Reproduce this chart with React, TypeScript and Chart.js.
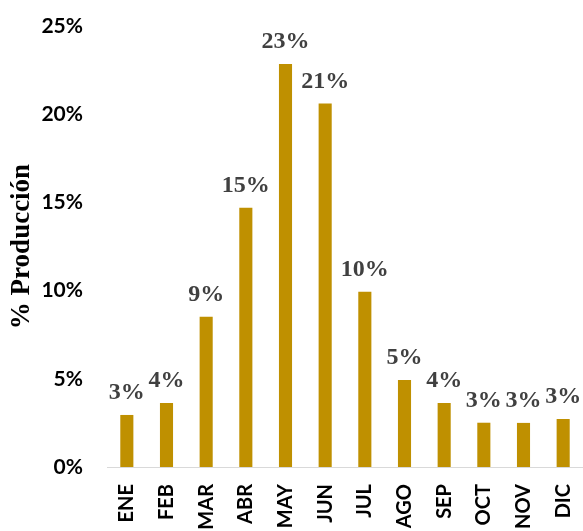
import React, { useEffect, useRef } from "react";
import { Chart, registerables } from "chart.js";

Chart.register(...registerables);

const months = ["ENE", "FEB", "MAR", "ABR", "MAY", "JUN", "JUL", "AGO", "SEP", "OCT", "NOV", "DIC"];
const production = [2.95, 3.63, 8.52, 14.7, 22.85, 20.6, 9.94, 4.93, 3.63, 2.51, 2.5, 2.72];
const yTicks = [0, 5, 10, 15, 20, 25];
const yTitle = "% Producción";

const valueLabels = {
  id: "valueLabels",
  afterDatasetsDraw(chart: any) {
    const ctx = chart.ctx;
    const meta = chart.getDatasetMeta(0);
    ctx.save();
    ctx.font = "bold 24px 'Liberation Serif', 'Times New Roman', serif";
    ctx.fillStyle = "#404040";
    ctx.textAlign = "center";
    ctx.textBaseline = "alphabetic";
    meta.data.forEach((bar: any, i: number) => {
      const v = chart.data.datasets[0].data[i] as number;
      ctx.fillText(Math.round(v) + "%", bar.x, bar.y - 16);
    });
    ctx.restore();
  },
};

export default function App() {
  const ref = useRef<HTMLCanvasElement>(null);
  useEffect(() => {
    document.body.style.margin = "0";
    const chart = new Chart(ref.current!, {
      type: "bar",
      data: {
        labels: months,
        datasets: [
          {
            data: production,
            backgroundColor: "#BF9000",
            borderWidth: 0,
            barPercentage: 0.33,
            categoryPercentage: 1,
          },
        ],
      },
      options: {
        responsive: false,
        animation: false,
        layout: { padding: { top: 26, right: 0, left: 0, bottom: 0 } },
        plugins: { legend: { display: false }, tooltip: { enabled: false } },
        scales: {
          x: {
            grid: { display: false, drawTicks: false },
            border: { display: true, color: "#D9D9D9", width: 1 },
            ticks: {
              minRotation: 90,
              maxRotation: 90,
              padding: 17,
              color: "#000000",
              font: { family: "Lato", weight: "bold", size: 20 },
            },
            afterFit: (scale: any) => {
              scale.height = 64;
              scale.paddingLeft = 0;
              scale.paddingRight = 0;
            },
          },
          y: {
            min: 0,
            max: 25,
            grid: { display: false, drawTicks: false },
            border: { display: false },
            afterBuildTicks: (scale: any) => {
              scale.ticks = yTicks.map((v) => ({ value: v }));
            },
            ticks: {
              padding: 24,
              color: "#000000",
              font: { family: "Lato", weight: "bold", size: 21 },
              callback: (v: any) => v + "%",
            },
            title: {
              display: true,
              text: yTitle,
              color: "#000000",
              padding: { top: 6, bottom: 0 },
              font: { family: "Liberation Serif", weight: "bold", size: 27 },
            },
            afterFit: (scale: any) => {
              scale.width = 107;
              scale.paddingTop = 0;
              scale.paddingBottom = 0;
            },
          },
        },
      },
      plugins: [valueLabels],
    });
    return () => chart.destroy();
  }, []);
  return (
    <div style={{ width: 583, height: 531, overflow: "hidden" }}>
      <canvas ref={ref} width={583} height={531} />
    </div>
  );
}
